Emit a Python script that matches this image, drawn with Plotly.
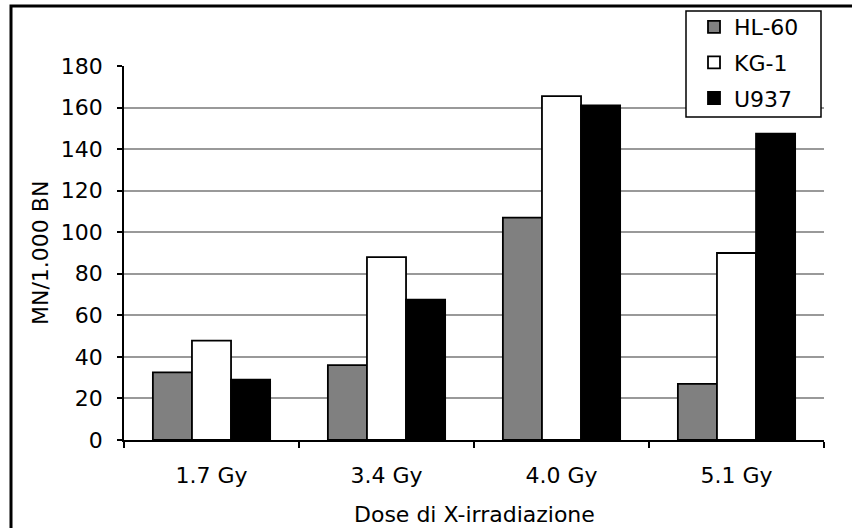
import plotly.graph_objects as go

categories = ["1.7 Gy", "3.4 Gy", "4.0 Gy", "5.1 Gy"]
hl60 = [32.5, 36, 107, 27]
kg1 = [47.8, 88, 165.5, 90]
u937 = [29, 67.5, 161, 147.5]

series = [("HL-60", hl60, "#808080"), ("KG-1", kg1, "#ffffff"), ("U937", u937, "#000000")]

fig = go.Figure()
for name, vals, col in series:
    fig.add_trace(go.Bar(x=categories, y=vals, name=name, legendgroup=name,
                         marker=dict(color=col, line=dict(color="black", width=1.8))))

F = "DejaVu Sans"
tickfont = dict(family=F, size=22, color="black")


def px(x):
    return (x - 124) / 700


def py(y):
    return (440 - y) / 374


fig.update_layout(
    width=852, height=528,
    margin=dict(l=124, r=28, t=66, b=88, autoexpand=False),
    paper_bgcolor="white", plot_bgcolor="white",
    barmode="group", bargap=0.33, bargroupgap=0,
    font=dict(family=F, size=22, color="black"),
    showlegend=True,
    legend=dict(x=px(694), y=py(6), xanchor="left", yanchor="top",
                borderwidth=0, bgcolor="rgba(0,0,0,0)",
                font=dict(family=F, size=22),
                itemwidth=30, tracegroupgap=4),
    xaxis=dict(showline=True, linecolor="black", linewidth=1.5, automargin=False,
               ticks="outside", tickson="boundaries", ticklen=6, tickcolor="black",
               tickwidth=1.5, showgrid=False, tickfont=tickfont, ticklabelstandoff=15),
    yaxis=dict(range=[0, 180], dtick=20, showline=True, linecolor="black", linewidth=1.5,
               automargin=False,
               ticks="outside", ticklen=5, tickcolor="black", tickwidth=1.5,
               showgrid=True, gridcolor="#999999", gridwidth=1.5, zeroline=False,
               tickfont=tickfont, ticklabelstandoff=10),
    annotations=[
        dict(text="Dose di X-irradiazione", xref="paper", yref="paper",
             x=0.5, y=py(514), xanchor="center", yanchor="middle",
             showarrow=False, font=dict(family=F, size=22)),
        dict(text="MN/1.000 BN", xref="paper", yref="paper",
             x=px(40), y=0.5, xanchor="center", yanchor="middle",
             textangle=-90, showarrow=False, font=dict(family=F, size=22)),
    ],
    shapes=[
        dict(type="rect", xref="paper", yref="paper",
             x0=px(11), x1=px(870), y0=py(540), y1=py(6),
             line=dict(color="black", width=3), layer="below"),
        dict(type="rect", xref="paper", yref="paper",
             x0=px(686), x1=px(821), y0=py(117), y1=py(11),
             fillcolor="white", line=dict(color="black", width=1.5), layer="above"),
    ],
)
fig.write_html("out.html")
